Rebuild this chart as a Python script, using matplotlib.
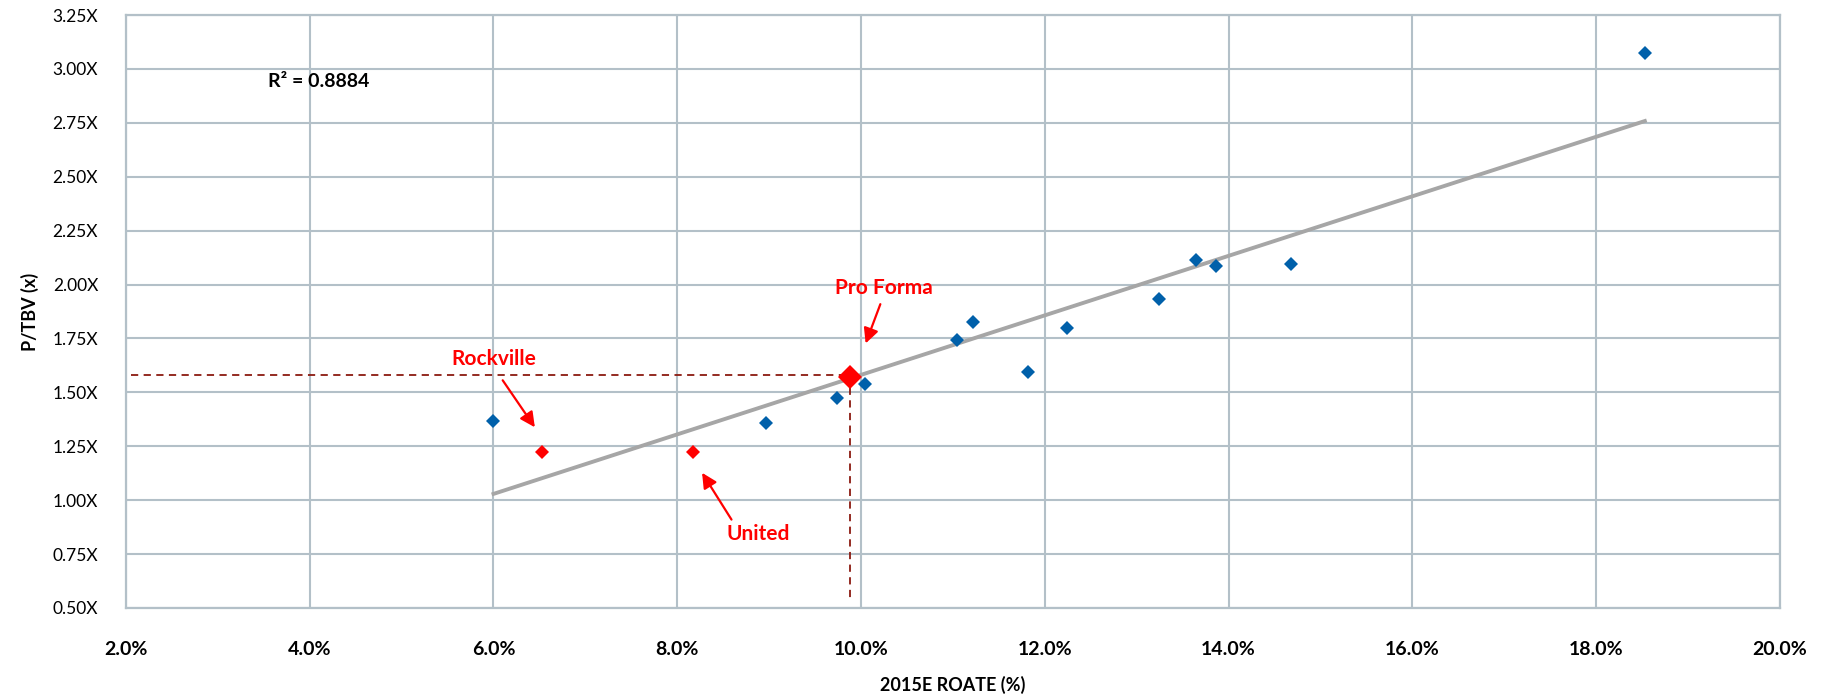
import numpy as np
import matplotlib
matplotlib.use("Agg")
import matplotlib.pyplot as plt

plt.rcParams['font.family'] = ['Lato', 'DejaVu Sans']

# Peer data (2015E ROATE %, P/TBV x)
peer_roate = [6.00, 8.97, 9.74, 10.04, 11.04, 11.22, 11.82, 12.24, 13.24, 13.65, 13.86, 14.68, 18.53]
peer_ptbv = [1.369, 1.360, 1.472, 1.539, 1.745, 1.825, 1.594, 1.798, 1.935, 2.116, 2.085, 2.096, 3.075]

# Highlighted companies
hl_names = ["Rockville", "United"]
hl_roate = [6.53, 8.17]
hl_ptbv = [1.224, 1.224]

proforma_name = "Pro Forma"
proforma_roate = 9.88
proforma_ptbv = 1.572
proforma_ref_ptbv = 1.582

r2_label = "R\u00b2 = 0.8884"

x_ticks = [2, 4, 6, 8, 10, 12, 14, 16, 18, 20]
y_ticks = [0.50, 0.75, 1.00, 1.25, 1.50, 1.75, 2.00, 2.25, 2.50, 2.75, 3.00, 3.25]

x_label = "2015E ROATE (%)"
y_label = "P/TBV (x)"

GRID = "#B3C0C8"
BLUE = "#0060AA"
RED = "#FF0000"
DARKRED = "#8B1A10"

fig = plt.figure(figsize=(18.28, 6.95), dpi=100)
ax = fig.add_axes([0.0689, 0.1252, 0.9048, 0.8532])

ax.set_xlim(2, 20)
ax.set_ylim(0.5, 3.25)
ax.set_xticks(x_ticks)
ax.set_yticks(y_ticks)
ax.set_xticklabels([f"{t:.1f}%" for t in x_ticks], fontsize=14, fontweight='bold')
ax.set_yticklabels([f"{t:.2f}X" for t in y_ticks], fontsize=12.5)
ax.tick_params(axis='both', length=0)
ax.tick_params(axis='x', pad=24)
ax.tick_params(axis='y', pad=20)
ax.grid(True, color=GRID, linewidth=1.5)
ax.set_axisbelow(True)
for s in ax.spines.values():
    s.set_color(GRID)
    s.set_linewidth(1.6)

ax.set_xlabel(x_label, fontsize=13, fontweight='bold', labelpad=13)
ax.set_ylabel(y_label, fontsize=13, fontweight='bold', labelpad=10)

# Trend line (linear fit of peers)
coef = np.polyfit(peer_roate, peer_ptbv, 1)
xs = np.array([min(peer_roate), max(peer_roate)])
ax.plot(xs, np.polyval(coef, xs), color="#A6A6A6", linewidth=2.8, zorder=2)

# Dashed reference lines for pro forma
dash = dict(color=DARKRED, linewidth=1.3, linestyle=(0, (4, 3)), zorder=3)
ax.plot([2.05, proforma_roate], [proforma_ref_ptbv, proforma_ref_ptbv], **dash)
ax.plot([proforma_roate, proforma_roate], [proforma_ref_ptbv, 0.53], **dash)

ax.plot(peer_roate, peer_ptbv, linestyle='none', marker='D', markersize=7,
        color=BLUE, markeredgewidth=0, zorder=4)
ax.plot(hl_roate, hl_ptbv, linestyle='none', marker='D', markersize=7,
        color=RED, markeredgewidth=0, zorder=4)
ax.plot([proforma_roate], [proforma_ptbv], linestyle='none', marker='D', markersize=12.5,
        color=RED, markeredgewidth=0, zorder=5)

arrow = dict(arrowstyle='-|>,head_length=0.9,head_width=0.45', color=RED, lw=1.6,
             shrinkA=0, shrinkB=0)
txt = dict(color=RED, fontsize=15, fontweight='bold', ha='center', va='center')
ax.text(6.0, 1.654, hl_names[0], **txt)
ax.annotate("", xy=(6.45, 1.338), xytext=(6.10, 1.556), arrowprops=arrow)
ax.text(8.88, 0.843, hl_names[1], **txt)
ax.annotate("", xy=(8.27, 1.127), xytext=(8.59, 0.91), arrowprops=arrow)
ax.text(10.25, 1.986, proforma_name, **txt)
ax.annotate("", xy=(10.05, 1.727), xytext=(10.21, 1.909), arrowprops=arrow)

ax.text(3.55, 2.94, r2_label, fontsize=14, fontweight='bold', ha='left', va='center')

fig.savefig("out.png", dpi=100)
